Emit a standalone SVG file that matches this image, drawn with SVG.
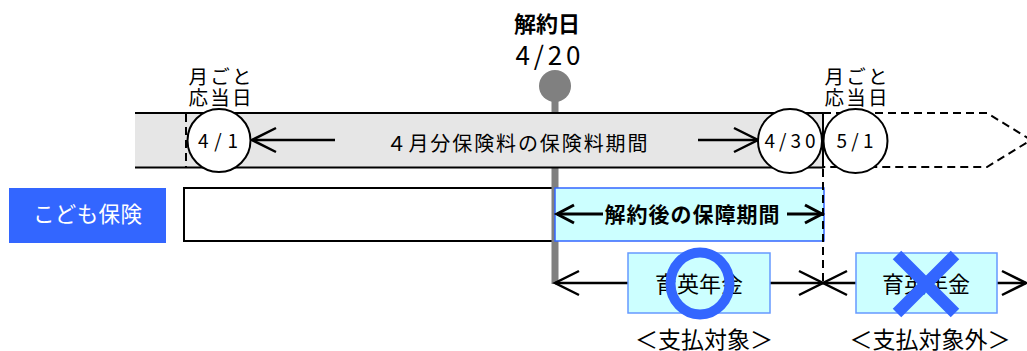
<svg xmlns="http://www.w3.org/2000/svg" width="1027" height="351" viewBox="0 0 1027 351">
<style>
text{font-family:"Noto Sans CJK JP","Noto Sans",sans-serif;fill:#000}
.ln{stroke:#000;stroke-width:2.5;fill:none}
.bx{fill:#ccffff;stroke:#6699ff;stroke-width:1.5}
.c{fill:#fff;stroke:#000;stroke-width:2}
.d{stroke:#000;stroke-width:2;fill:none;stroke-dasharray:8 5}
</style>
<defs>
<marker id="ah" viewBox="-28 -15 32 30" markerWidth="32" markerHeight="30" refX="0" refY="0" orient="auto-start-reverse" markerUnits="userSpaceOnUse">
<path d="M-24,-12 L0,0 L-24,12" fill="none" stroke="#000" stroke-width="2.5"/>
</marker>
<marker id="as" viewBox="-22 -12 26 24" markerWidth="26" markerHeight="24" refX="0" refY="0" orient="auto-start-reverse" markerUnits="userSpaceOnUse">
<path d="M-17,-9 L0,0 L-17,9" fill="none" stroke="#000" stroke-width="3"/>
</marker>
</defs>
<rect width="1027" height="351" fill="#fff"/>

<g id="header">
<text x="547" y="32" font-size="22" font-weight="bold" text-anchor="middle">解約日</text>
<text x="548" y="65" font-size="26" text-anchor="middle" textLength="65" lengthAdjust="spacing">4/20</text>
</g>

<g id="white-box">
<rect x="184" y="188" width="372" height="53" fill="#fff" stroke="#000" stroke-width="2"/>
</g>

<g id="kaiyakubi-line">
<line x1="555" y1="95" x2="555" y2="284" stroke="#808080" stroke-width="7"/>
<circle cx="555" cy="86" r="16" fill="#808080"/>
</g>

<g id="premium-band">
<rect x="135" y="113" width="688" height="55" fill="#e6e6e6"/>
<line x1="135" y1="113" x2="823" y2="113" stroke="#000" stroke-width="2"/>
<line x1="135" y1="167.5" x2="823" y2="167.5" stroke="#000" stroke-width="2"/>
<line x1="823" y1="112" x2="823" y2="168.5" stroke="#000" stroke-width="2"/>
<line x1="186" y1="114" x2="186" y2="167" class="d" stroke-dasharray="6 4"/>
<path d="M823,113 L987,113 L1031,140 L987,167 L823,167" class="d"/>
<text x="517" y="151" font-size="20" text-anchor="middle" textLength="261" lengthAdjust="spacing">４月分保険料の保険料期間</text>
</g>

<g id="label-left">
<text x="220" y="84" font-size="19.5" text-anchor="middle" textLength="63" lengthAdjust="spacing">月ごと</text>
<text x="220" y="105" font-size="19.5" text-anchor="middle" textLength="63" lengthAdjust="spacing">応当日</text>
</g>
<g id="label-right">
<text x="856" y="84" font-size="19.5" text-anchor="middle" textLength="63" lengthAdjust="spacing">月ごと</text>
<text x="856" y="105" font-size="19.5" text-anchor="middle" textLength="63" lengthAdjust="spacing">応当日</text>
</g>

<g id="kodomo-hoken">
<rect x="9" y="188" width="157" height="55" fill="#3366ff"/>
<text x="87.5" y="222" font-size="21.5" text-anchor="middle" style="fill:#fff" textLength="109" lengthAdjust="spacing">こども保険</text>
</g>

<g id="hosho-kikan">
<rect x="555" y="188" width="269" height="53" fill="#ccffff" stroke="#3366ff" stroke-width="1.5"/>
<text x="692" y="222" font-size="21" font-weight="bold" text-anchor="middle" textLength="175" lengthAdjust="spacing">解約後の保障期間</text>
</g>

<g id="connectors">
<line x1="335" y1="140" x2="252" y2="140" class="ln" marker-end="url(#ah)"/>
<line x1="698" y1="140" x2="758" y2="140" class="ln" marker-end="url(#ah)"/>
<line x1="603" y1="214" x2="557" y2="214" stroke="#000" stroke-width="3" marker-end="url(#as)"/>
<line x1="787" y1="214" x2="822" y2="214" stroke="#000" stroke-width="3" marker-end="url(#as)"/>
<line x1="823" y1="169" x2="823" y2="283" class="d" stroke-dasharray="6 4"/>
<line x1="555" y1="283" x2="823" y2="283" class="ln" marker-start="url(#ah)" marker-end="url(#ah)"/>
<line x1="823" y1="283" x2="1026" y2="283" class="ln" marker-start="url(#ah)" marker-end="url(#ah)"/>
</g>

<g id="c-4-1">
<circle cx="219" cy="140.5" r="31.5" class="c"/>
<text x="218" y="148" font-size="19" text-anchor="middle" textLength="40" lengthAdjust="spacing">4/1</text>
</g>
<g id="c-4-30">
<circle cx="790" cy="141" r="32" class="c"/>
<text x="790" y="148" font-size="19" text-anchor="middle" textLength="51" lengthAdjust="spacing">4/30</text>
</g>
<g id="c-5-1">
<circle cx="855.5" cy="141" r="32" class="c"/>
<text x="855" y="148" font-size="19" text-anchor="middle" textLength="37" lengthAdjust="spacing">5/1</text>
</g>

<g id="ikuei-paid">
<rect x="628" y="253" width="142" height="60" class="bx"/>
<text x="699" y="292" font-size="22" text-anchor="middle">育英年金</text>
<ellipse cx="700" cy="283.5" rx="29.5" ry="31" fill="none" stroke="#3366ff" stroke-width="10"/>
<text x="704" y="348" font-size="23" text-anchor="middle">＜支払対象＞</text>
</g>

<g id="ikuei-unpaid">
<rect x="856" y="253" width="141" height="60" class="bx"/>
<text x="926" y="292" font-size="22" text-anchor="middle">育英年金</text>
<path d="M897,255 L955,313 M955,255 L897,313" stroke="#3366ff" stroke-width="12" fill="none"/>
<text x="930" y="348" font-size="23" text-anchor="middle">＜支払対象外＞</text>
</g>
</svg>
